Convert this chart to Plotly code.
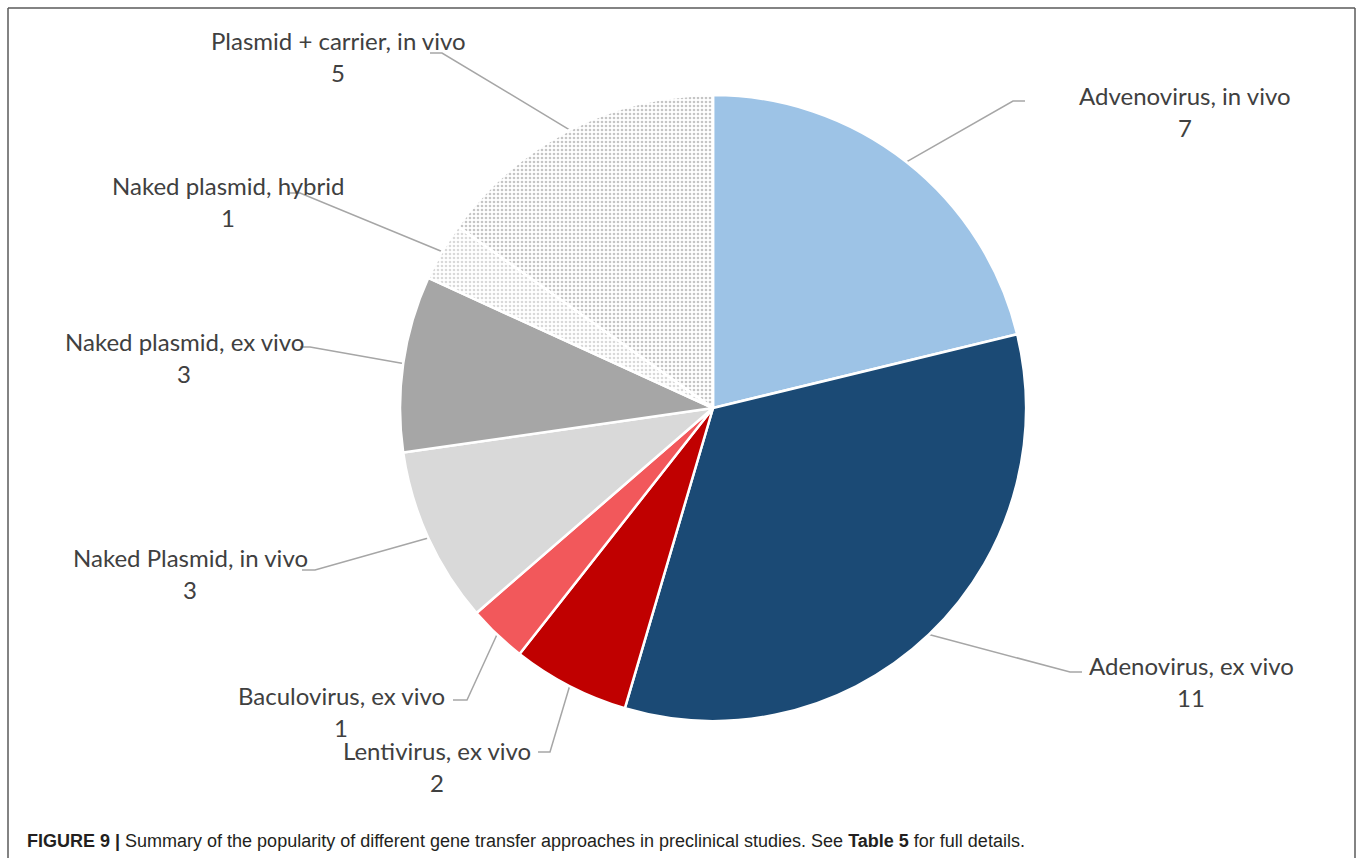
import math
import plotly.graph_objects as go

# ---- data ----
labels = ["Advenovirus, in vivo", "Adenovirus, ex vivo", "Lentivirus, ex vivo",
          "Baculovirus, ex vivo", "Naked Plasmid, in vivo", "Naked plasmid, ex vivo",
          "Naked plasmid, hybrid", "Plasmid + carrier, in vivo"]
values = [7, 11, 2, 1, 3, 3, 1, 5]
colors = ["#9DC3E6", "#1B4A75", "#C00000", "#F2585B", "#D9D9D9", "#A6A6A6", "#FFFFFF", "#FFFFFF"]
patterns = ["", "", "", "", "", "", ".", "."]
pattern_fg = ["#000", "#000", "#000", "#000", "#000", "#000", "#B4B4B4", "#8C8C8C"]

# ---- layout (pixels) ----
W, H = 1358, 858
CX, CY, R = 713, 408, 313
# label centres (name line) and leader-line elbows / ends
label_pos = [(1185, 95), (1191, 665), (437, 750), (341, 695),
             (190, 557), (184, 341), (228, 185), (338, 40)]
elbows = [((1013, 101), (1025, 101)), ((1070, 672), (1082, 672)),
          ((550, 752), (538, 752)), ((467, 700), (453, 700)),
          ((315, 570), (302, 570)), ((310, 347), (300, 347)),
          ((300, 193), (288, 193)), ((442, 53), (430, 53))]
LINE_GAP = 32
label_font = dict(family="Lato, 'Open Sans', sans-serif", size=24, color="#404040")

fig = go.Figure()

fig.add_trace(go.Pie(
    labels=labels, values=values, sort=False, direction="clockwise", rotation=0,
    marker=dict(colors=colors, line=dict(color="white", width=2.5),
                pattern=dict(shape=patterns, fgcolor=pattern_fg, size=4,
                             solidity=0.35, fillmode="overlay")),
    textinfo="none", hoverinfo="label+value", showlegend=False,
    domain=dict(x=[(CX - R) / W, (CX + R) / W], y=[(H - CY - R) / H, (H - CY + R) / H]),
))

# leader lines: start on pie edge at slice mid-angle
total = sum(values)
cum = 0
for i, v in enumerate(values):
    ang = math.radians((cum + v / 2) / total * 360)
    cum += v
    sx, sy = CX + R * math.sin(ang), CY - R * math.cos(ang)
    (ex, ey), (tx, ty) = elbows[i]
    fig.add_trace(go.Scatter(x=[sx, ex, tx], y=[sy, ey, ty], mode="lines",
                             line=dict(color="#A6A6A6", width=1.5),
                             hoverinfo="skip", showlegend=False))

annotations = []
for i, (lab, v) in enumerate(zip(labels, values)):
    lx, ly = label_pos[i]
    annotations.append(dict(x=lx, y=ly, xref="x", yref="y", text=lab, showarrow=False,
                            xanchor="center", yanchor="middle", font=label_font))
    annotations.append(dict(x=lx, y=ly + LINE_GAP, xref="x", yref="y", text=str(v),
                            showarrow=False, xanchor="center", yanchor="middle",
                            font=label_font))

annotations.append(dict(
    x=25, y=841, xref="x", yref="y", xanchor="left", yanchor="middle", showarrow=False,
    text="<b>FIGURE 9 |</b> Summary of the popularity of different gene transfer approaches "
         "in preclinical studies. See <b>Table 5</b> for full details.",
    font=dict(family="'Liberation Sans', Arial, sans-serif", size=18, color="#231F20")))

border = dict(color="#5A5A5A", width=1.5)
shapes = [
    dict(type="line", xref="x", yref="y", x0=8, y0=8, x1=1355, y1=8, line=border),
    dict(type="line", xref="x", yref="y", x0=8, y0=8, x1=8, y1=858, line=border),
    dict(type="line", xref="x", yref="y", x0=1355, y0=8, x1=1355, y1=858, line=border),
]

fig.update_layout(
    width=W, height=H, margin=dict(l=0, r=0, t=0, b=0),
    paper_bgcolor="white", plot_bgcolor="rgba(0,0,0,0)",
    xaxis=dict(range=[0, W], visible=False, fixedrange=True, domain=[0, 1]),
    yaxis=dict(range=[H, 0], visible=False, fixedrange=True, domain=[0, 1]),
    annotations=annotations, shapes=shapes,
)

fig.write_html("out.html", config={"displayModeBar": False},
               post_script="document.body.style.margin='0';document.body.style.overflow='hidden';")
